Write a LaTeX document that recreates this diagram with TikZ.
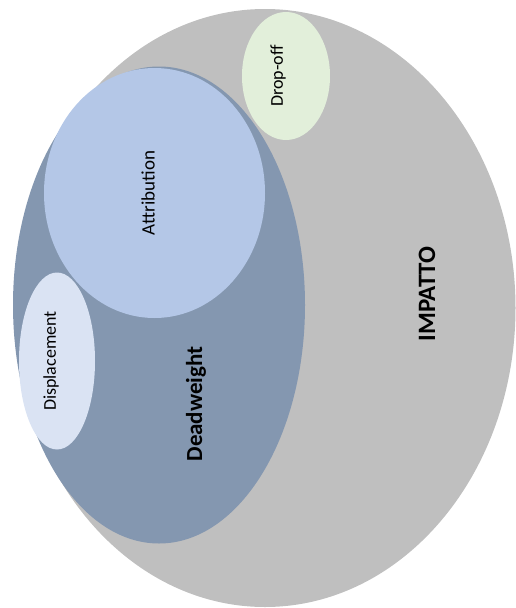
\documentclass[tikz,border=0pt]{standalone}
\usepackage{fontspec}
\setmainfont{Carlito}
\usetikzlibrary{shapes.geometric}
\definecolor{impactgray}{HTML}{BFBFBF}
\definecolor{deadblue}{HTML}{8497B0}
\definecolor{attrblue}{HTML}{B4C7E7}
\definecolor{displblue}{HTML}{DAE3F3}
\definecolor{dropgreen}{HTML}{E2EFDA}
\begin{document}
\begin{tikzpicture}[x=1pt,y=-1pt,
  blob/.style={ellipse,inner sep=0pt,outer sep=0pt,draw=none},
  lbl/.style={rotate=90,font=\fontsize{18}{20}\selectfont,text=black,inner sep=0pt},
  biglbl/.style={rotate=90,font=\fontsize{23}{26}\selectfont\bfseries,text=black,inner sep=0pt}]
  \useasboundingbox (0,0) rectangle (515,608);
  % outer set: overall impact
  \node[blob,fill=impactgray,minimum width=501pt,minimum height=598pt] (impatto) at (265,308) {};
  % deadweight set
  \node[blob,fill=deadblue,minimum width=292pt,minimum height=477pt] (dead) at (159,305) {};
  % subsets
  \node[blob,fill=attrblue,minimum width=221pt,minimum height=250pt] (attr) at (154.5,193) {};
  \node[blob,fill=displblue,minimum width=76pt,minimum height=177pt] (displ) at (57,361) {};
  \node[blob,fill=dropgreen,minimum width=88pt,minimum height=128pt] (drop) at (286,76) {};
  % labels
  \node[biglbl,font=\fontsize{25}{28}\selectfont\bfseries] (timpatto) at (427,294) {IMPATTO};
  \node[biglbl] (tdead) at (196,404) {Deadweight};
  \node[lbl,font=\fontsize{19}{21}\selectfont] (tattr) at (148,193) {Attribution};
  \node[lbl] (tdispl) at (51,361) {Displacement};
  \node[lbl] (tdrop) at (278,76) {Drop-off};
\end{tikzpicture}
\end{document}
